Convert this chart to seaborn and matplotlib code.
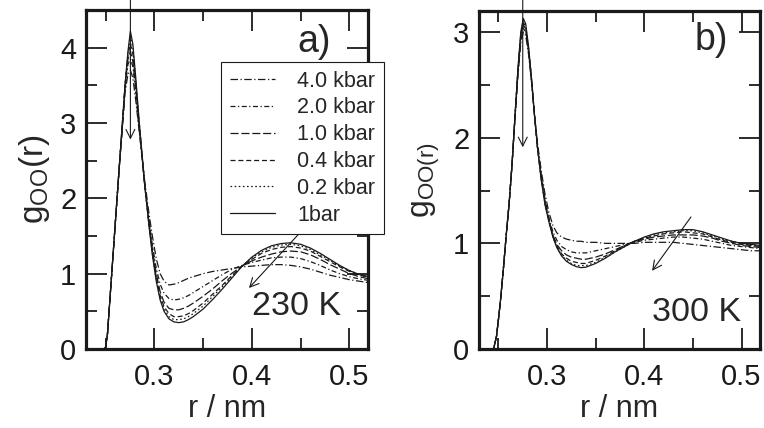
import numpy as np
import pandas as pd
import seaborn as sns
import matplotlib.pyplot as plt
from matplotlib.ticker import MultipleLocator

# r grid (nm), shared by all curves
r = [0.240, 0.245, 0.248, 0.250, 0.252, 0.255, 0.258, 0.261, 0.264, 0.267,
     0.270, 0.273, 0.2755, 0.278, 0.281, 0.284, 0.287, 0.290, 0.294, 0.298,
     0.302, 0.306, 0.310, 0.315, 0.320, 0.325, 0.330, 0.335, 0.340, 0.350,
     0.360, 0.370, 0.380, 0.390, 0.400, 0.410, 0.420, 0.430, 0.440, 0.450,
     0.460, 0.470, 0.480, 0.490, 0.500, 0.510, 0.520]

pressures = ["4.0 kbar", "2.0 kbar", "1.0 kbar", "0.4 kbar", "0.2 kbar", "1bar"]

# 230 K
g230_4000 = [0, 0, 0, 0.02, 0.2, 0.75, 1.3, 1.85, 2.4, 2.88,
             3.4, 3.65, 3.7, 3.6, 3.3, 2.95, 2.6, 2.25, 1.85, 1.5,
             1.2, 1.0, 0.9, 0.85, 0.86, 0.88, 0.91, 0.94, 0.96, 1.0,
             1.03, 1.05, 1.07, 1.09, 1.1, 1.11, 1.12, 1.12, 1.11, 1.09,
             1.06, 1.02, 0.98, 0.95, 0.92, 0.9, 0.88]
g230_2000 = [0, 0, 0, 0.02, 0.2, 0.75, 1.3, 1.85, 2.4, 2.9,
             3.45, 3.78, 3.85, 3.75, 3.4, 2.98, 2.6, 2.2, 1.77, 1.38,
             1.07, 0.86, 0.74, 0.67, 0.65, 0.66, 0.68, 0.71, 0.75, 0.83,
             0.91, 0.99, 1.06, 1.11, 1.15, 1.18, 1.21, 1.22, 1.22, 1.2,
             1.16, 1.11, 1.05, 1.0, 0.96, 0.93, 0.91]
g230_1000 = [0, 0, 0, 0.02, 0.2, 0.75, 1.3, 1.85, 2.4, 2.93,
             3.48, 3.85, 3.95, 3.82, 3.45, 3.02, 2.62, 2.2, 1.74, 1.33,
             1.0, 0.76, 0.62, 0.54, 0.52, 0.52, 0.54, 0.57, 0.61, 0.7,
             0.8, 0.91, 1.01, 1.1, 1.17, 1.22, 1.26, 1.29, 1.3, 1.29,
             1.25, 1.19, 1.12, 1.06, 1.0, 0.96, 0.93]
g230_400 = [0, 0, 0, 0.02, 0.2, 0.75, 1.3, 1.85, 2.4, 2.94,
            3.5, 3.9, 4.05, 3.92, 3.52, 3.06, 2.63, 2.2, 1.72, 1.29,
            0.95, 0.71, 0.56, 0.47, 0.43, 0.43, 0.44, 0.47, 0.51, 0.61,
            0.73, 0.85, 0.98, 1.1, 1.19, 1.27, 1.32, 1.35, 1.36, 1.34,
            1.3, 1.23, 1.16, 1.09, 1.03, 0.98, 0.95]
g230_200 = [0, 0, 0, 0.02, 0.2, 0.75, 1.3, 1.85, 2.4, 2.95,
            3.5, 3.93, 4.15, 4.0, 3.56, 3.08, 2.64, 2.2, 1.71, 1.27,
            0.92, 0.68, 0.53, 0.43, 0.39, 0.39, 0.4, 0.43, 0.47, 0.57,
            0.7, 0.83, 0.97, 1.1, 1.21, 1.29, 1.35, 1.38, 1.39, 1.37,
            1.32, 1.25, 1.18, 1.1, 1.04, 0.99, 0.95]
g230_1bar = [0, 0, 0, 0.02, 0.2, 0.75, 1.3, 1.85, 2.4, 2.95,
             3.5, 3.95, 4.22, 4.05, 3.6, 3.1, 2.65, 2.2, 1.7, 1.25,
             0.9, 0.65, 0.5, 0.4, 0.36, 0.35, 0.36, 0.39, 0.43, 0.53,
             0.66, 0.8, 0.95, 1.1, 1.22, 1.31, 1.37, 1.4, 1.41, 1.39,
             1.34, 1.27, 1.19, 1.11, 1.04, 0.99, 0.96]

# 300 K
g300_4000 = [0, 0, 0.12, 0.28, 0.45, 0.75, 1.08, 1.38, 1.75, 2.18,
             2.58, 2.9, 3.0, 2.97, 2.79, 2.53, 2.23, 1.96, 1.69, 1.46,
             1.29, 1.17, 1.1, 1.06, 1.04, 1.03, 1.02, 1.02, 1.01, 1.01,
             1.0, 1.0, 1.0, 1.0, 1.01, 1.01, 1.01, 1.01, 1.0, 0.99,
             0.98, 0.97, 0.96, 0.95, 0.94, 0.93, 0.93]
g300_2000 = [0, 0, 0.12, 0.28, 0.45, 0.75, 1.08, 1.38, 1.75, 2.19,
             2.6, 2.93, 3.04, 3.0, 2.81, 2.54, 2.22, 1.93, 1.65, 1.41,
             1.24, 1.11, 1.03, 0.97, 0.94, 0.92, 0.91, 0.91, 0.91, 0.93,
             0.95, 0.97, 0.99, 1.01, 1.03, 1.04, 1.05, 1.06, 1.06, 1.05,
             1.04, 1.02, 1.0, 0.98, 0.97, 0.96, 0.95]
g300_1000 = [0, 0, 0.12, 0.28, 0.45, 0.75, 1.08, 1.38, 1.75, 2.2,
             2.62, 2.96, 3.07, 3.03, 2.83, 2.55, 2.22, 1.92, 1.63, 1.39,
             1.22, 1.08, 0.99, 0.93, 0.89, 0.87, 0.86, 0.85, 0.85, 0.87,
             0.9, 0.94, 0.98, 1.02, 1.04, 1.06, 1.07, 1.08, 1.08, 1.08,
             1.07, 1.05, 1.02, 1.0, 0.98, 0.97, 0.96]
g300_400 = [0, 0, 0.12, 0.28, 0.45, 0.75, 1.08, 1.38, 1.75, 2.2,
            2.63, 2.98, 3.09, 3.05, 2.84, 2.56, 2.22, 1.92, 1.62, 1.38,
            1.21, 1.07, 0.98, 0.9, 0.86, 0.83, 0.82, 0.81, 0.81, 0.84,
            0.88, 0.93, 0.98, 1.02, 1.05, 1.07, 1.09, 1.1, 1.11, 1.1,
            1.09, 1.06, 1.03, 1.01, 0.99, 0.98, 0.97]
g300_200 = [0, 0, 0.12, 0.28, 0.45, 0.75, 1.08, 1.38, 1.75, 2.2,
            2.64, 2.99, 3.11, 3.06, 2.85, 2.56, 2.22, 1.92, 1.61, 1.37,
            1.2, 1.06, 0.97, 0.89, 0.84, 0.81, 0.79, 0.79, 0.79, 0.82,
            0.87, 0.92, 0.97, 1.02, 1.05, 1.08, 1.1, 1.11, 1.12, 1.12,
            1.1, 1.07, 1.04, 1.02, 1.0, 0.985, 0.975]
g300_1bar = [0, 0, 0.12, 0.28, 0.45, 0.75, 1.08, 1.38, 1.75, 2.2,
             2.65, 3.0, 3.13, 3.08, 2.86, 2.56, 2.22, 1.92, 1.6, 1.36,
             1.2, 1.06, 0.96, 0.88, 0.83, 0.8, 0.78, 0.77, 0.775, 0.81,
             0.86, 0.92, 0.97, 1.02, 1.06, 1.09, 1.11, 1.12, 1.13, 1.13,
             1.11, 1.08, 1.05, 1.02, 1.0, 0.99, 0.98]


def long_df(curves):
    rows = []
    for lab, g in zip(pressures, curves):
        rows.append(pd.DataFrame({"r": r, "g": g, "p": lab}))
    return pd.concat(rows, ignore_index=True)


df230 = long_df([g230_4000, g230_2000, g230_1000, g230_400, g230_200, g230_1bar])
df300 = long_df([g300_4000, g300_2000, g300_1000, g300_400, g300_200, g300_1bar])

dash_map = {"4.0 kbar": (6, 2, 1, 2),
            "2.0 kbar": (4, 2, 1, 2),
            "1.0 kbar": (6.5, 2.2),
            "0.4 kbar": (4, 2.3),
            "0.2 kbar": (1.3, 2),
            "1bar": ""}

sns.set_theme(style="ticks")
plt.rcParams["font.family"] = ["Liberation Sans", "DejaVu Sans"]
plt.rcParams["mathtext.fontset"] = "custom"
plt.rcParams["mathtext.rm"] = "Liberation Sans"
plt.rcParams["mathtext.it"] = "Liberation Sans"

fig = plt.figure(figsize=(7.64, 4.28), dpi=100)
W, H = 764, 428
ax1 = fig.add_axes([86 / W, 1 - 349 / H, 282 / W, 339 / H])
ax2 = fig.add_axes([479 / W, 1 - 349 / H, 281 / W, 338 / H])

sns.lineplot(data=df230, x="r", y="g", style="p", style_order=pressures,
             dashes=dash_map, color="k", linewidth=0.9, ax=ax1, legend=True)
sns.lineplot(data=df300, x="r", y="g", style="p", style_order=pressures,
             dashes=dash_map, color="k", linewidth=0.9, ax=ax2, legend=False)

for ax, ymax in [(ax1, 4.5), (ax2, 3.2)]:
    ax.set_xlim(0.23, 0.519)
    ax.set_ylim(0, ymax)
    ax.xaxis.set_major_locator(MultipleLocator(0.1))
    ax.xaxis.set_minor_locator(MultipleLocator(0.05))
    ax.yaxis.set_major_locator(MultipleLocator(1))
    ax.yaxis.set_minor_locator(MultipleLocator(0.5))
    ax.tick_params(which="both", direction="in", top=True, right=True,
                   color="k", labelsize=21, labelcolor="k")
    ax.tick_params(which="major", length=15, width=1.3, pad=7)
    ax.tick_params(axis="x", which="major", pad=10)
    ax.tick_params(which="minor", length=8, width=1.3)
    for s in ax.spines.values():
        s.set_linewidth(2.3)
        s.set_color("k")
    ax.set_xlabel("r / nm", fontsize=22, labelpad=2)
    ax.set_facecolor("white")

ax1.set_xticks([0.3, 0.4, 0.5])
ax2.set_xticks([0.3, 0.4, 0.5])
ax1.set_xticklabels(["0.3", "0.4", "0.5"])
ax2.set_xticklabels(["0.3", "0.4", "0.5"])

ax1.set_ylabel(r"g$_{\mathrm{OO}}$(r)", fontsize=24, labelpad=6)
ax2.set_ylabel(r"g$_{\mathrm{OO(r)}}$", fontsize=23, labelpad=8)

ax1.text(0.748, 0.906, "a)", transform=ax1.transAxes, fontsize=27, va="center")
ax1.text(0.589, 0.124, "230 K", transform=ax1.transAxes, fontsize=24.5, va="center")
ax2.text(0.766, 0.914, "b)", transform=ax2.transAxes, fontsize=27, va="center")
ax2.text(0.616, 0.109, "300 K", transform=ax2.transAxes, fontsize=24.5, va="center")

arrow = dict(arrowstyle="->", color="k", lw=0.8, mutation_scale=16, shrinkA=0, shrinkB=0)
ax1.annotate("", xy=(0.2755, 2.78), xytext=(0.2755, 4.65), arrowprops=arrow,
             annotation_clip=False)
ax1.annotate("", xy=(0.397, 0.81), xytext=(0.454, 1.61), arrowprops=arrow)
ax2.annotate("", xy=(0.275, 1.91), xytext=(0.275, 3.31), arrowprops=arrow,
             annotation_clip=False)
ax2.annotate("", xy=(0.408, 0.74), xytext=(0.448, 1.25), arrowprops=arrow)

handles, labels = ax1.get_legend_handles_labels()
keep = [(h, l) for h, l in zip(handles, labels) if l in pressures]
for h, _ in keep:
    h.set_linewidth(0.9)
    h.set_color("k")
leg = ax1.legend([h for h, _ in keep], [l for _, l in keep],
                 loc="upper left", bbox_to_anchor=(221 / W, 1 - 62 / H),
                 bbox_transform=fig.transFigure, fontsize=15.5,
                 frameon=True, fancybox=False, framealpha=1,
                 edgecolor="k", borderaxespad=0, borderpad=0.4,
                 handlelength=2.1, handletextpad=1.05, labelspacing=0.27)
leg.get_frame().set_linewidth(0.8)
leg.set_zorder(10)

fig.savefig("out.png", dpi=100)
